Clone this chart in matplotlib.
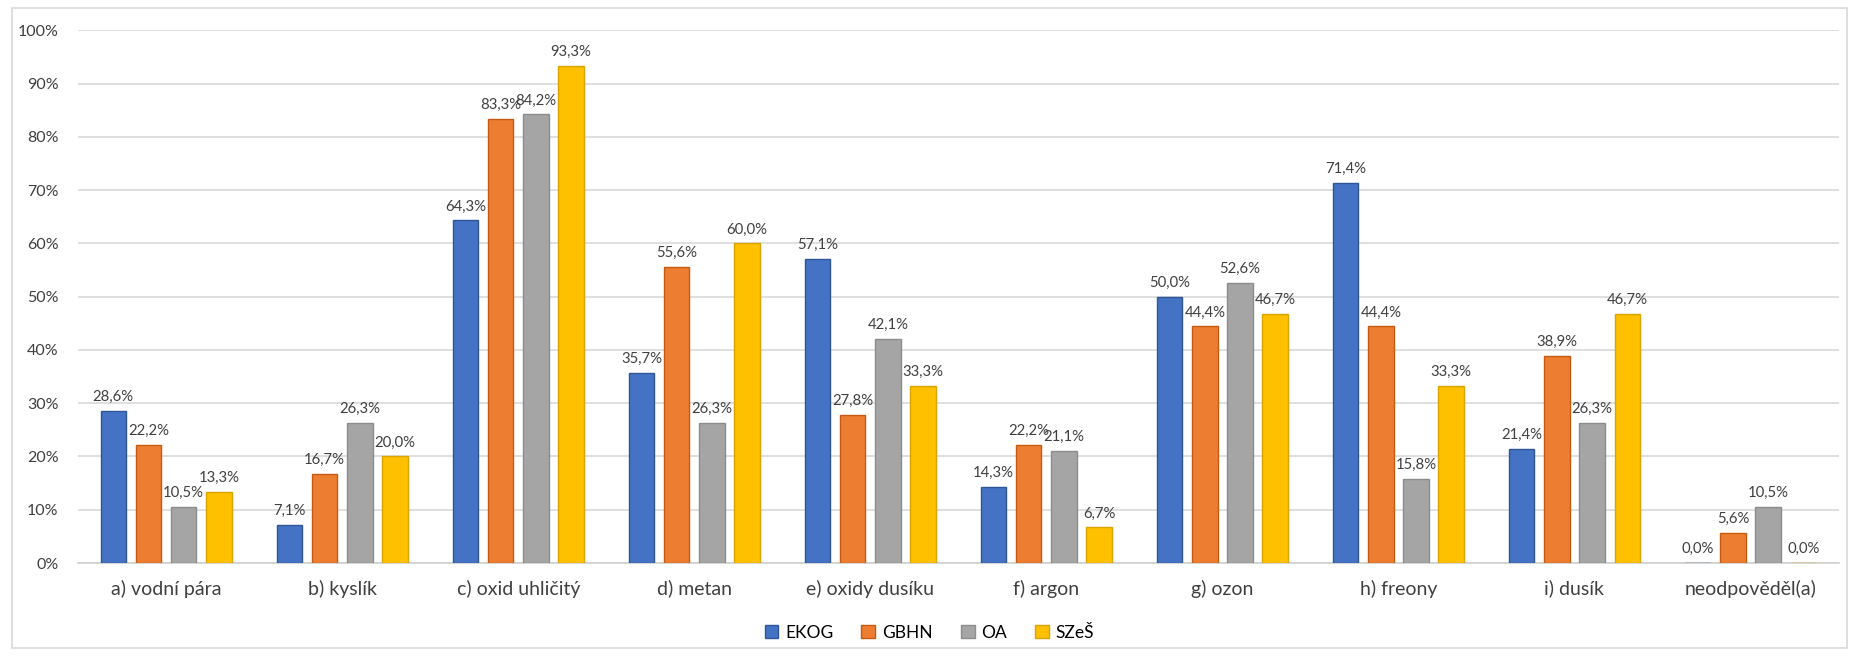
import numpy as np
import matplotlib.pyplot as plt
from matplotlib.patches import Rectangle
from matplotlib.ticker import PercentFormatter

plt.rcParams['font.family'] = ['Lato', 'DejaVu Sans']

categories = ['a) vodní pára', 'b) kyslík', 'c) oxid uhličitý', 'd) metan', 'e) oxidy dusíku',
              'f) argon', 'g) ozon', 'h) freony', 'i) dusík', 'neodpověděl(a)']
series = ['EKOG', 'GBHN', 'OA', 'SZeŠ']
ekog = [28.6, 7.1, 64.3, 35.7, 57.1, 14.3, 50.0, 71.4, 21.4, 0.0]
gbhn = [22.2, 16.7, 83.3, 55.6, 27.8, 22.2, 44.4, 44.4, 38.9, 5.6]
oa = [10.5, 26.3, 84.2, 26.3, 42.1, 21.1, 52.6, 15.8, 26.3, 10.5]
szes = [13.3, 20.0, 93.3, 60.0, 33.3, 6.7, 46.7, 33.3, 46.7, 0.0]

colors = ['#4472C4', '#ED7D31', '#A5A5A5', '#FFC000']
edges = ['#2F5597', '#C55A11', '#8C8C8C', '#D9A400']

fig = plt.figure(figsize=(18.59, 6.57), dpi=100)
ax = fig.add_axes([0.042, 0.143, 0.947, 0.811])

x = np.arange(len(categories))
w = 0.145
offsets = [-0.3, -0.1, 0.1, 0.3]
for vals, name, c, ec, off in zip([ekog, gbhn, oa, szes], series, colors, edges, offsets):
    bars = ax.bar(x + off, vals, w, color=c, edgecolor=ec, linewidth=1, label=name, zorder=3)
    for b, v in zip(bars, vals):
        ax.text(b.get_x() + b.get_width() / 2, v + 1.3, f'{v:.1f}%'.replace('.', ','),
                ha='center', va='bottom', fontsize=10.7, color='#404040', zorder=4)

ax.set_xlim(-0.5, len(categories) - 0.5)
ax.set_ylim(0, 100)
ax.set_yticks(np.arange(0, 101, 10))
ax.yaxis.set_major_formatter(PercentFormatter(decimals=0))
ax.set_xticks(x)
ax.set_xticklabels(categories)
ax.tick_params(axis='both', length=0, colors='#404040')
ax.tick_params(axis='x', pad=12, labelsize=14)
ax.tick_params(axis='y', pad=14, labelsize=11.5)
ax.grid(axis='y', color='#D9D9D9', linewidth=1.2, zorder=0)
for s in ['top', 'right', 'left']:
    ax.spines[s].set_visible(False)
ax.spines['bottom'].set_color('#D0D0D0')
ax.spines['bottom'].set_linewidth(1.2)

fig.legend(loc='center', bbox_to_anchor=(0.5, 0.037), ncol=4, frameon=False,
           fontsize=12.5, handlelength=0.8, handleheight=0.8, handletextpad=0.4,
           columnspacing=1.6)

fig.patches.append(Rectangle((12 / 1859, 9 / 657), 1835 / 1859, 640 / 657,
                             transform=fig.transFigure, fill=False,
                             edgecolor='#D9D9D9', linewidth=1.2))

fig.savefig('out.png', dpi=100)
